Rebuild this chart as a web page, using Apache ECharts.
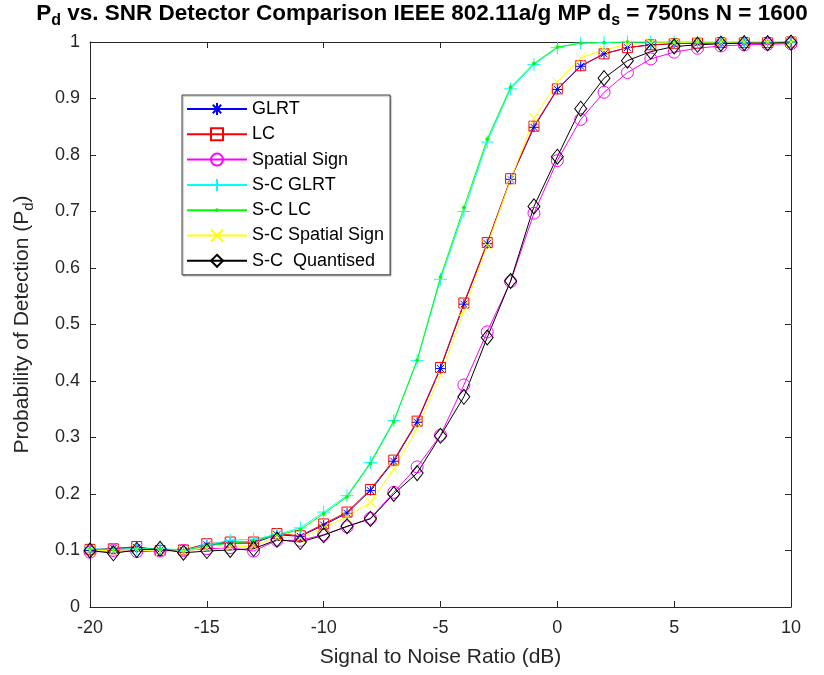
<!DOCTYPE html>
<html>
<head>
<meta charset="utf-8">
<script src="https://cdn.jsdelivr.net/npm/echarts@6/dist/echarts.min.js"></script>
<style>
  html, body { margin: 0; padding: 0; background: #fff; }
  #chart { width: 824px; height: 675px; }
</style>
</head>
<body>
<div id="chart"></div>
<script>
// SNR sweep in dB
const snr = [-20,-19,-18,-17,-16,-15,-14,-13,-12,-11,-10,-9,-8,-7,-6,-5,-4,-3,-2,-1,0,1,2,3,4,5,6,7,8,9,10];

// Probability of detection per detector
const glrt = [0.100,0.104,0.105,0.101,0.100,0.110,0.113,0.113,0.128,0.125,0.145,0.166,0.206,0.258,0.327,0.422,0.536,0.643,0.757,0.849,0.916,0.957,0.979,0.990,0.995,0.997,0.998,0.999,0.999,0.999,1.000];
const lc = [0.102,0.103,0.107,0.100,0.101,0.112,0.115,0.115,0.130,0.126,0.147,0.168,0.208,0.260,0.329,0.424,0.538,0.645,0.758,0.851,0.917,0.958,0.979,0.990,0.995,0.997,0.998,0.999,0.999,0.999,1.000];
const spatialSign = [0.097,0.100,0.098,0.099,0.100,0.103,0.105,0.099,0.118,0.118,0.128,0.142,0.157,0.203,0.248,0.304,0.393,0.487,0.576,0.697,0.790,0.863,0.911,0.946,0.970,0.982,0.989,0.993,0.995,0.996,0.997];
const scGlrt = [0.103,0.102,0.103,0.104,0.100,0.110,0.118,0.120,0.128,0.140,0.168,0.197,0.256,0.330,0.436,0.580,0.700,0.823,0.917,0.960,0.990,0.998,0.999,1.000,1.000,1.000,1.000,1.000,1.000,1.000,1.000];
const scLc = [0.102,0.101,0.103,0.102,0.100,0.108,0.113,0.117,0.127,0.137,0.165,0.195,0.254,0.328,0.437,0.584,0.707,0.828,0.920,0.962,0.991,0.998,0.999,1.000,1.000,1.000,1.000,1.000,1.000,1.000,1.000];
const scSpatialSign = [0.100,0.100,0.102,0.098,0.099,0.105,0.106,0.108,0.124,0.122,0.140,0.160,0.185,0.244,0.316,0.410,0.524,0.640,0.756,0.865,0.929,0.972,0.986,0.996,0.998,0.999,1.000,1.000,1.000,1.000,1.000];
const scQuantised = [0.100,0.095,0.101,0.103,0.096,0.099,0.101,0.103,0.119,0.115,0.127,0.143,0.156,0.200,0.237,0.303,0.372,0.477,0.577,0.709,0.797,0.882,0.936,0.967,0.983,0.992,0.995,0.997,0.998,0.998,0.999];

const seriesNames = ['GLRT','LC','Spatial Sign','S-C GLRT','S-C LC','S-C Spatial Sign','S-C  Quantised'];

// Marker outlines drawn as stroked paths
const ASTERISK = 'path://M0,5L10,5M5,0L5,10M1.5,1.5L8.5,8.5M1.5,8.5L8.5,1.5';
const PLUS = 'path://M0,5L10,5M5,0L5,10';
const CROSS = 'path://M0,0L10,10M0,10L10,0';
// small point marker inside a 10x10 box (the two move-tos fix the box size)
const POINT = 'path://M0,0M10,10M6.6,5L6.13,6.13L5,6.6L3.87,6.13L3.4,5L3.87,3.87L5,3.4L6.13,3.87Z';

const axisColor = '#262626';
const font = 'Liberation Sans, Arial, Helvetica, sans-serif';

function pairs(vals) { return snr.map((x, i) => [x, vals[i]]); }

function makeSeries(name, vals, color, symbol, size, filled) {
  return {
    name: name,
    type: 'line',
    data: pairs(vals),
    symbol: symbol,
    symbolSize: size,
    symbolKeepAspect: true,
    showAllSymbol: true,
    animation: false,
    lineStyle: { color: color, width: 1 },
    itemStyle: filled
      ? { color: color, borderColor: color, borderWidth: 0 }
      : { color: 'rgba(0,0,0,0)', borderColor: color, borderWidth: 1 },
    emphasis: { disabled: true }
  };
}

const chart = echarts.init(document.getElementById('chart'), null, { renderer: 'canvas' });

const bold = { fontFamily: font, fontWeight: 'bold', fontSize: 22.5, color: '#000', lineHeight: 26 };
const boldSub = { fontFamily: font, fontWeight: 'bold', fontSize: 16, color: '#000', lineHeight: 26, padding: [14, 0, 0, 0] };

chart.setOption({
  backgroundColor: '#fff',
  animation: false,
  title: {
    left: 422,
    top: 1,
    padding: 0,
    textAlign: 'center',
    text: '{b|P}{s|d}{b| vs. SNR Detector Comparison IEEE 802.11a/g MP d}{s|s}{b| = 750ns N = 1600}',
    textStyle: { rich: { b: bold, s: boldSub } }
  },
  grid: { left: 88, right: 33, top: 42, bottom: 68, containLabel: false },
  legend: {
    orient: 'vertical',
    left: 182,
    top: 95,
    data: seriesNames,
    itemWidth: 60,
    itemHeight: 15,
    itemGap: 7.3,
    padding: [5, 6, 5, 4],
    backgroundColor: '#fff',
    borderColor: '#444',
    borderWidth: 1,
    borderRadius: 0,
    shadowColor: 'rgba(0,0,0,0.35)',
    shadowBlur: 1,
    shadowOffsetX: 1,
    shadowOffsetY: 1,
    textStyle: { fontFamily: font, fontSize: 18, color: '#000', lineHeight: 16, padding: [0, 0, 0, 0] },
    selectedMode: false
  },
  xAxis: [
    {
      type: 'value', min: -20, max: 10, interval: 5,
      name: 'Signal to Noise Ratio (dB)',
      nameLocation: 'middle', nameGap: 40,
      nameTextStyle: { fontFamily: font, fontSize: 21, color: axisColor },
      axisLine: { show: true, onZero: false, lineStyle: { color: axisColor, width: 1 } },
      axisTick: { show: true, inside: true, length: 6, lineStyle: { color: axisColor } },
      axisLabel: { fontFamily: font, fontSize: 18, color: axisColor, margin: 12 },
      splitLine: { show: false }
    },
    {
      type: 'value', min: -20, max: 10, interval: 5, position: 'top',
      axisLine: { show: true, onZero: false, lineStyle: { color: axisColor, width: 1 } },
      axisTick: { show: true, inside: true, length: 6, lineStyle: { color: axisColor } },
      axisLabel: { show: false },
      splitLine: { show: false }
    }
  ],
  yAxis: [
    {
      type: 'value', min: 0, max: 1, interval: 0.1,
      name: '{a|Probability of Detection (P}{s|d}{a|)}',
      nameLocation: 'middle', nameGap: 56, nameRotate: 90,
      nameTextStyle: {
        rich: {
          a: { fontFamily: font, fontSize: 21, color: axisColor, lineHeight: 24 },
          s: { fontFamily: font, fontSize: 15, color: axisColor, lineHeight: 24, padding: [13, 0, 0, 0] }
        }
      },
      axisLine: { show: true, onZero: false, lineStyle: { color: axisColor, width: 1 } },
      axisTick: { show: true, inside: true, length: 6, lineStyle: { color: axisColor } },
      axisLabel: {
        fontFamily: font, fontSize: 18, color: axisColor, margin: 10,
        formatter: v => String(Math.round(v * 10) / 10)
      },
      splitLine: { show: false }
    },
    {
      type: 'value', min: 0, max: 1, interval: 0.1, position: 'right',
      axisLine: { show: true, onZero: false, lineStyle: { color: axisColor, width: 1 } },
      axisTick: { show: true, inside: true, length: 6, lineStyle: { color: axisColor } },
      axisLabel: { show: false },
      splitLine: { show: false }
    }
  ],
  series: [
    makeSeries(seriesNames[0], glrt, '#0000ff', ASTERISK, 10, false),
    makeSeries(seriesNames[1], lc, '#ff0000', 'rect', 10, false),
    makeSeries(seriesNames[2], spatialSign, '#ff00ff', 'circle', 12, false),
    makeSeries(seriesNames[3], scGlrt, '#00ffff', PLUS, 13, false),
    makeSeries(seriesNames[4], scLc, '#00ff00', POINT, 12, true),
    makeSeries(seriesNames[5], scSpatialSign, '#ffff00', CROSS, 10, false),
    makeSeries(seriesNames[6], scQuantised, '#000000', 'diamond', [12, 15], false)
  ]
});
</script>
</body>
</html>
